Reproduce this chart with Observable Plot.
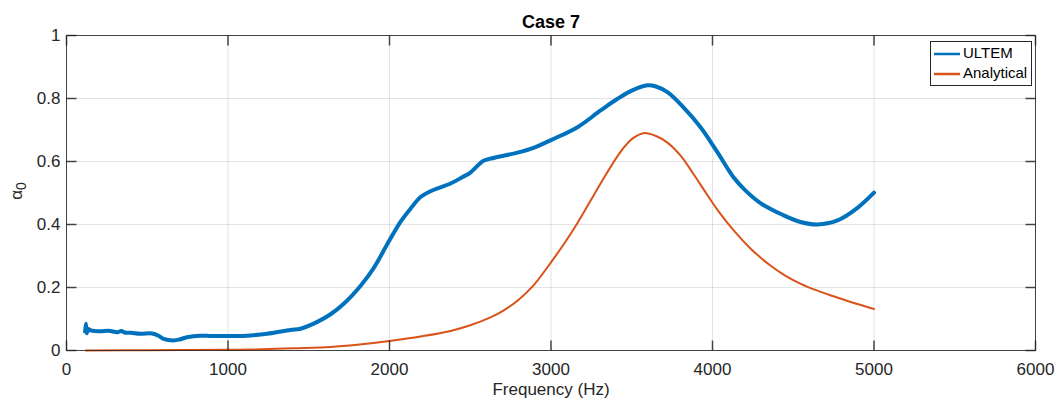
<!DOCTYPE html>
<html><head><meta charset="utf-8">
<script src="https://cdn.jsdelivr.net/npm/d3@7"></script>
<script src="https://cdn.jsdelivr.net/npm/@observablehq/plot@0.6"></script>
<style>
body{margin:0;background:#fff;font-family:"Liberation Sans",Arial,Helvetica,sans-serif}
#chart{position:relative;width:1059px;height:400px}
.legend{position:absolute;left:930px;top:41px;width:102px;height:45px;border:1px solid #262626;background:#fff;box-sizing:border-box;font-size:15px;color:#000}
.legend .row{position:absolute;left:2px;height:18px;line-height:18px;white-space:nowrap}
.legend svg{vertical-align:middle}
</style></head>
<body><div id="chart"></div>
<script>
const title = "Case 7";
const xLabel = "Frequency (Hz)";
const yLabelMain = "α";
const yLabelSub = "0";
const xTicks = [0, 1000, 2000, 3000, 4000, 5000, 6000];
const yTicks = [0, 0.2, 0.4, 0.6, 0.8, 1];
const yTickLabels = ["0", "0.2", "0.4", "0.6", "0.8", "1"];
const seriesNames = ["ULTEM", "Analytical"];
const seriesColors = ["#0072BD", "#D95319"];

const ultemFreq = [115,120,125,135,150,210,260,315,340,360,400,458,530,570,601,663,700,746,828,900,1035,1139,1242,1387,1449,1550,1635,1720,1820,1900,2000,2070,2130,2192,2250,2378,2450,2501,2582,2650,2792,2900,3000,3164,3307,3412,3500,3598,3650,3721,3820,3926,4031,4130,4200,4297,4437,4545,4650,4774,4898,5000];
const ultemAlpha = [0.060,0.085,0.055,0.068,0.064,0.061,0.063,0.058,0.062,0.057,0.056,0.053,0.054,0.047,0.037,0.032,0.035,0.042,0.047,0.046,0.046,0.048,0.053,0.065,0.069,0.090,0.115,0.150,0.205,0.260,0.350,0.410,0.450,0.487,0.505,0.530,0.550,0.565,0.602,0.612,0.628,0.645,0.668,0.709,0.762,0.799,0.825,0.842,0.838,0.820,0.772,0.709,0.629,0.550,0.510,0.468,0.430,0.408,0.400,0.413,0.453,0.501];

const analyticFreq = [120,500,1000,1139,1400,1635,1800,2000,2200,2378,2500,2625,2700,2792,2892,3000,3080,3164,3250,3330,3412,3460,3510,3573,3650,3721,3800,3880,3960,4040,4130,4235,4350,4450,4550,4650,4750,4855,5000];
const analyticAlpha = [0.000,0.001,0.002,0.003,0.007,0.011,0.018,0.030,0.045,0.062,0.080,0.105,0.125,0.158,0.207,0.280,0.338,0.405,0.480,0.550,0.617,0.650,0.675,0.690,0.681,0.660,0.620,0.562,0.500,0.440,0.382,0.324,0.273,0.238,0.211,0.190,0.172,0.154,0.132];

const ultem = ultemFreq.map((f, i) => ({f, a: ultemAlpha[i]}));
const analytic = analyticFreq.map((f, i) => ({f, a: analyticAlpha[i]}));

const font = '"Liberation Sans", Arial, Helvetica, sans-serif';
const axisColor = "#262626";
const tickLen = 10;
const tickSym = (dx, dy) => ({draw(ctx) { ctx.moveTo(0, 0); ctx.lineTo(dx * tickLen, dy * tickLen); }});
const xMin = xTicks[0], xMax = xTicks[xTicks.length - 1];
const yMin = yTicks[0], yMax = yTicks[yTicks.length - 1];

const plot = Plot.plot({
  width: 1059, height: 400,
  marginLeft: 66, marginRight: 24, marginTop: 35, marginBottom: 50,
  style: {fontFamily: font, fontSize: "17px", color: axisColor, background: "#fff", overflow: "visible"},
  x: {domain: [xMin, xMax]},
  y: {domain: [yMin, yMax]},
  marks: [
    Plot.gridX(xTicks, {stroke: axisColor, strokeOpacity: 0.13}),
    Plot.gridY(yTicks, {stroke: axisColor, strokeOpacity: 0.13}),
    Plot.line(analytic, {x: "f", y: "a", stroke: seriesColors[1], strokeWidth: 2, curve: "catmull-rom"}),
    Plot.line(ultem, {x: "f", y: "a", stroke: seriesColors[0], strokeWidth: 4, curve: "catmull-rom"}),
    Plot.frame({stroke: axisColor, strokeOpacity: 0.85}),
    Plot.axisX(xTicks, {anchor: "bottom", tickSize: 0, tickPadding: 12, label: null, fill: axisColor, tickFormat: (d) => String(d)}),
    Plot.axisY(yTicks, {anchor: "left", tickSize: 0, tickPadding: 6, label: null, fill: axisColor, tickFormat: (d) => yTickLabels[yTicks.indexOf(d)]}),
    Plot.dot(xTicks, {x: (d) => d, y: yMin, symbol: tickSym(0, -1), stroke: axisColor, fill: "none", strokeOpacity: 0.85}),
    Plot.dot(xTicks, {x: (d) => d, y: yMax, symbol: tickSym(0, 1), stroke: axisColor, fill: "none", strokeOpacity: 0.85}),
    Plot.dot(yTicks, {x: xMin, y: (d) => d, symbol: tickSym(1, 0), stroke: axisColor, fill: "none", strokeOpacity: 0.85}),
    Plot.dot(yTicks, {x: xMax, y: (d) => d, symbol: tickSym(-1, 0), stroke: axisColor, fill: "none", strokeOpacity: 0.85}),
    Plot.text([title], {frameAnchor: "top", dy: -8, lineAnchor: "bottom", fontWeight: "bold", fontSize: 18, fill: "#000"}),
    Plot.text([xLabel], {frameAnchor: "bottom", dy: 39, lineAnchor: "middle", fontSize: 17, fill: axisColor})
  ]
});

const chart = document.getElementById("chart");
chart.appendChild(plot);

// y-axis label with subscript
const svg = d3.select(plot);
const yl = svg.append("text")
  .attr("transform", "translate(22,191) rotate(-90)")
  .attr("text-anchor", "middle")
  .attr("fill", axisColor)
  .style("font-family", font)
  .style("font-size", "17px");
yl.append("tspan").text(yLabelMain);
yl.append("tspan").attr("dy", "0.3em").style("font-size", "14px").text(yLabelSub);

// legend
const legend = d3.select(chart).append("div").attr("class", "legend");
seriesNames.forEach((name, i) => {
  const row = legend.append("div").attr("class", "row").style("top", (2 + i * 20) + "px");
  const s = row.append("svg").attr("width", 28).attr("height", 4);
  s.append("line").attr("x1", 1).attr("x2", 27).attr("y1", 2).attr("y2", 2)
    .attr("stroke", seriesColors[i]).attr("stroke-width", 2.5);
  row.append("span").style("margin-left", "2px").text(name);
});
</script>
</body></html>
